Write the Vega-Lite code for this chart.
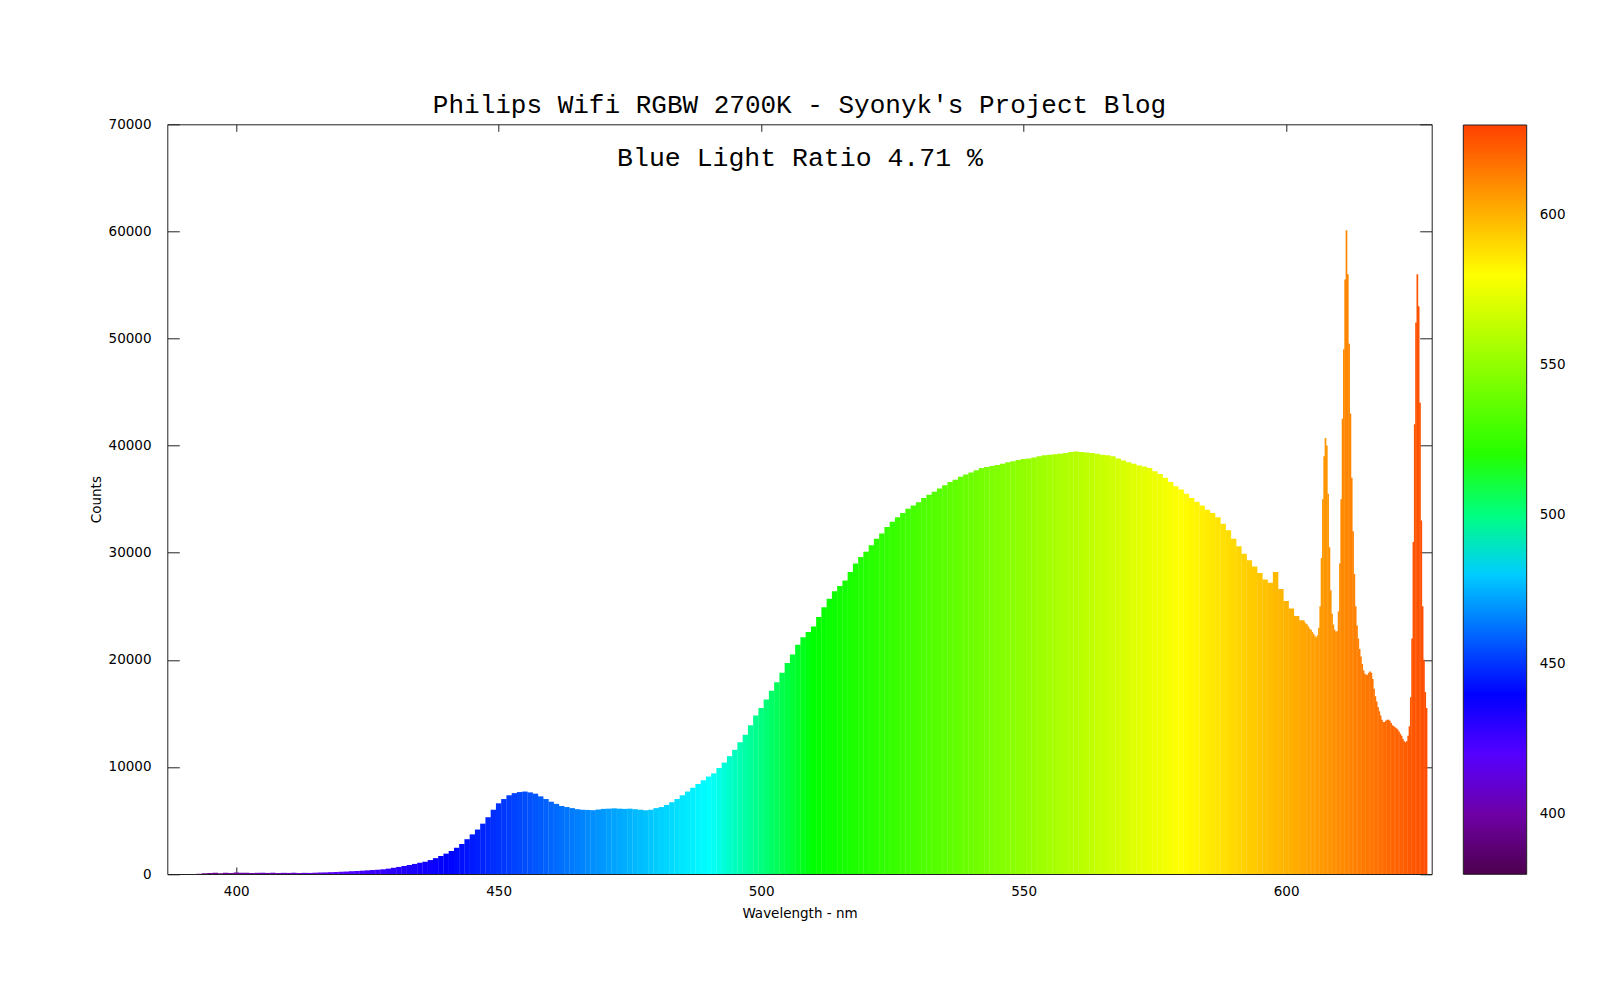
{
"$schema": "https://vega.github.io/schema/vega-lite/v6.json",
"autosize": {"type": "none"},
"padding": {"left": 167.3, "top": 124.3, "right": 168.3, "bottom": 126},
"width": 1264.4,
"height": 749.7,
"background": "white",
"title": {"text": "Philips Wifi RGBW 2700K - Syonyk's Project Blog", "font": "Liberation Mono", "fontSize": 26, "fontWeight": "normal", "color": "black", "anchor": "middle", "baseline": "alphabetic", "frame": "group", "offset": -22},
"datasets": {
"coarse": [
{"w":388,"c":0},{"w":389,"c":0},{"w":390,"c":0},{"w":391,"c":0},{"w":392,"c":0},{"w":393,"c":20},{"w":394,"c":60},{"w":395,"c":90},{"w":396,"c":110},{"w":397,"c":80},{"w":398,"c":120},{"w":399,"c":100},{"w":400,"c":130},{"w":401,"c":110},{"w":402,"c":120},{"w":403,"c":100},{"w":404,"c":110},{"w":405,"c":120},{"w":406,"c":100},{"w":407,"c":120},{"w":408,"c":90},{"w":409,"c":110},{"w":410,"c":100},{"w":411,"c":120},{"w":412,"c":90},{"w":413,"c":110},{"w":414,"c":100},{"w":415,"c":120},{"w":416,"c":140},{"w":417,"c":150},{"w":418,"c":170},{"w":419,"c":190},{"w":420,"c":210},{"w":421,"c":230},{"w":422,"c":260},{"w":423,"c":280},{"w":424,"c":310},{"w":425,"c":340},{"w":426,"c":370},{"w":427,"c":400},{"w":428,"c":440},{"w":429,"c":500},{"w":430,"c":580},{"w":431,"c":660},{"w":432,"c":750},{"w":433,"c":840},{"w":434,"c":940},{"w":435,"c":1050},{"w":436,"c":1150},{"w":437,"c":1300},{"w":438,"c":1480},{"w":439,"c":1680},{"w":440,"c":1900},
{"w":441,"c":2150},{"w":442,"c":2450},{"w":443,"c":2800},{"w":444,"c":3250},{"w":445,"c":3700},{"w":446,"c":4150},{"w":447,"c":4700},{"w":448,"c":5300},{"w":449,"c":6000},{"w":450,"c":6600},{"w":451,"c":7000},{"w":452,"c":7350},{"w":453,"c":7550},{"w":454,"c":7650},{"w":455,"c":7700},{"w":456,"c":7620},{"w":457,"c":7500},{"w":458,"c":7250},{"w":459,"c":7000},{"w":460,"c":6750},{"w":461,"c":6550},{"w":462,"c":6350},{"w":463,"c":6250},{"w":464,"c":6150},{"w":465,"c":6050},{"w":466,"c":6000},{"w":467,"c":5980},{"w":468,"c":5960},{"w":469,"c":6020},{"w":470,"c":6080},{"w":471,"c":6100},{"w":472,"c":6130},{"w":473,"c":6100},{"w":474,"c":6080},{"w":475,"c":6100},{"w":476,"c":6050},{"w":477,"c":6000},{"w":478,"c":5950},{"w":479,"c":6000},{"w":480,"c":6150},{"w":481,"c":6250},{"w":482,"c":6450},{"w":483,"c":6700},{"w":484,"c":7000},{"w":485,"c":7350},{"w":486,"c":7700},{"w":487,"c":8050},
{"w":488,"c":8400},{"w":489,"c":8750},{"w":490,"c":9100},{"w":491,"c":9400},{"w":492,"c":9900},{"w":493,"c":10400},{"w":494,"c":11000},{"w":495,"c":11600},{"w":496,"c":12300},{"w":497,"c":13000},{"w":498,"c":13900},{"w":499,"c":14800},{"w":500,"c":15500},{"w":501,"c":16300},{"w":502,"c":17100},{"w":503,"c":17900},{"w":504,"c":18800},{"w":505,"c":19700},{"w":506,"c":20500},{"w":507,"c":21400},{"w":508,"c":22100},{"w":509,"c":22600},{"w":510,"c":23100},{"w":511,"c":24000},{"w":512,"c":24900},{"w":513,"c":25700},{"w":514,"c":26400},{"w":515,"c":26900},{"w":516,"c":27400},{"w":517,"c":28200},{"w":518,"c":29000},{"w":519,"c":29600},{"w":520,"c":30100},{"w":521,"c":30700},{"w":522,"c":31300},{"w":523,"c":31800},{"w":524,"c":32400},{"w":525,"c":32900},{"w":526,"c":33300},{"w":527,"c":33700},{"w":528,"c":34100},{"w":529,"c":34400},{"w":530,"c":34700},{"w":531,"c":35100},{"w":532,"c":35400},{"w":533,"c":35700},{"w":534,"c":36000},{"w":535,"c":36300},{"w":536,"c":36600},{"w":537,"c":36800},{"w":538,"c":37100},{"w":539,"c":37300},{"w":540,"c":37500},
{"w":541,"c":37700},{"w":542,"c":37900},{"w":543,"c":38000},{"w":544,"c":38100},{"w":545,"c":38200},{"w":546,"c":38300},{"w":547,"c":38450},{"w":548,"c":38550},{"w":549,"c":38650},{"w":550,"c":38750},{"w":551,"c":38800},{"w":552,"c":38900},{"w":553,"c":39000},{"w":554,"c":39100},{"w":555,"c":39150},{"w":556,"c":39200},{"w":557,"c":39250},{"w":558,"c":39300},{"w":559,"c":39400},{"w":560,"c":39450},{"w":561,"c":39400},{"w":562,"c":39350},{"w":563,"c":39300},{"w":564,"c":39250},{"w":565,"c":39150},{"w":566,"c":39100},{"w":567,"c":39000},{"w":568,"c":38800},{"w":569,"c":38600},{"w":570,"c":38450},{"w":571,"c":38300},{"w":572,"c":38150},{"w":573,"c":38050},{"w":574,"c":37900},{"w":575,"c":37600},{"w":576,"c":37350},{"w":577,"c":37000},{"w":578,"c":36600},{"w":579,"c":36200},{"w":580,"c":35900},{"w":581,"c":35500},{"w":582,"c":35100},{"w":583,"c":34750},{"w":584,"c":34400},{"w":585,"c":34000},{"w":586,"c":33700},{"w":587,"c":33300},{"w":588,"c":32700},{"w":589,"c":32100},{"w":590,"c":31300},{"w":591,"c":30600},{"w":592,"c":29900},{"w":593,"c":29300},{"w":594,"c":28700},{"w":595,"c":28100},{"w":596,"c":27500},{"w":597,"c":27200},{"w":598,"c":28200},{"w":599,"c":26600},{"w":600,"c":25500},{"w":601,"c":24800},{"w":602,"c":24100},{"w":603,"c":23700}
],
"fine": [
{"w":603.5,"c":23500},{"w":603.75,"c":23400},{"w":604,"c":23300},{"w":604.25,"c":23100},{"w":604.5,"c":22900},{"w":604.75,"c":22800},{"w":605,"c":22600},{"w":605.25,"c":22400},{"w":605.5,"c":22200},{"w":605.75,"c":22100},{"w":606,"c":22300},{"w":606.25,"c":23000},{"w":606.5,"c":25000},{"w":606.75,"c":29500},{"w":607,"c":35000},{"w":607.25,"c":39000},{"w":607.5,"c":40700},{"w":607.75,"c":40000},{"w":608,"c":35500},{"w":608.25,"c":30500},{"w":608.5,"c":26500},{"w":608.75,"c":24300},{"w":609,"c":23300},{"w":609.25,"c":22800},{"w":609.5,"c":22600},{"w":609.75,"c":22700},{"w":610,"c":24500},{"w":610.25,"c":29000},{"w":610.5,"c":35000},{"w":610.75,"c":42500},{"w":611,"c":49000},{"w":611.25,"c":55500},{"w":611.5,"c":60100},{"w":611.75,"c":56000},{"w":612,"c":49500},{"w":612.25,"c":43000},{"w":612.5,"c":37000},{"w":612.75,"c":32000},{"w":613,"c":28000},{"w":613.25,"c":25000},{"w":613.5,"c":23200},{"w":613.75,"c":22000},{"w":614,"c":21000},{"w":614.25,"c":20300},{"w":614.5,"c":19600},{"w":614.75,"c":19000},{"w":615,"c":18700},{"w":615.25,"c":18600},{"w":615.5,"c":18600},{"w":615.75,"c":18800},{"w":616,"c":18900},{"w":616.25,"c":18800},{"w":616.5,"c":18200},{"w":616.75,"c":17300},{"w":617,"c":16600},{"w":617.25,"c":16100},{"w":617.5,"c":15600},{"w":617.75,"c":15200},{"w":618,"c":14800},{"w":618.25,"c":14400},{"w":618.5,"c":14200},{"w":618.75,"c":14200},{"w":619,"c":14300},{"w":619.25,"c":14400},{"w":619.5,"c":14400},{"w":619.75,"c":14300},{"w":620,"c":14100},{"w":620.25,"c":13900},{"w":620.5,"c":13800},{"w":620.75,"c":13700},{"w":621,"c":13600},{"w":621.25,"c":13500},{"w":621.5,"c":13300},{"w":621.75,"c":13100},{"w":622,"c":12900},{"w":622.25,"c":12600},{"w":622.5,"c":12400},{"w":622.75,"c":12300},{"w":623,"c":12400},{"w":623.25,"c":12900},{"w":623.5,"c":13800},{"w":623.75,"c":16500},{"w":624,"c":22000},{"w":624.25,"c":31000},{"w":624.5,"c":42000},{"w":624.75,"c":51500},{"w":625,"c":56000},{"w":625.25,"c":53000},{"w":625.5,"c":44000},{"w":625.75,"c":33000},{"w":626,"c":25000},{"w":626.25,"c":20000},{"w":626.5,"c":17000},{"w":626.75,"c":15500}
]
},
"layer": [
{
"data": {"name": "coarse"},
"mark": {"type": "bar", "width": 5.5, "clip": true},
"encoding": {
"x": {"field": "w", "type": "quantitative", "scale": {"domain": [387.83, 626.78], "nice": false, "zero": false},
"axis": {"orient": "bottom", "values": [400, 450, 500, 550, 600], "title": "Wavelength - nm", "grid": false, "tickSize": -7, "labelPadding": 17, "titlePadding": 9}},
"y": {"field": "c", "type": "quantitative", "scale": {"domain": [0, 70000], "nice": false},
"axis": {"orient": "left", "values": [0, 10000, 20000, 30000, 40000, 50000, 60000, 70000], "format": "d", "title": "Counts", "grid": false, "tickSize": -12, "labelPadding": 28.3, "titlePadding": 5}},
"color": {"field": "w", "type": "quantitative",
"scale": {"domain": [380, 390, 400, 410, 420, 440, 490, 510, 580, 630], "range": ["#4d004d", "#650079", "#6e00a6", "#6900d2", "#5500ff", "#0000ff", "#00ffff", "#00ff00", "#ffff00", "#ff4000"], "interpolate": "rgb"},
"legend": {"title": null, "orient": "none", "legendX": 1296, "legendY": 0.7, "direction": "vertical", "gradientLength": 749.3, "gradientThickness": 63.4, "values": [400, 450, 500, 550, 600], "labelOffset": 13, "padding": 0, "gradientStrokeColor": "#222", "gradientStrokeWidth": 1, "labelFontSize": 13.5, "labelColor": "black", "labelFont": "DejaVu Sans"}}
}
},
{
"data": {"name": "fine"},
"mark": {"type": "bar", "width": 1.7, "clip": true},
"encoding": {
"x": {"field": "w", "type": "quantitative", "axis": null},
"y": {"field": "c", "type": "quantitative", "axis": null},
"color": {"field": "w", "type": "quantitative"}
}
},
{
"data": {"values": [{}]},
"mark": {"type": "text", "text": "Blue Light Ratio 4.71 %", "font": "Liberation Mono", "fontSize": 26.5, "align": "center", "baseline": "alphabetic", "color": "black"},
"encoding": {
"x": {"datum": 507.4, "type": "quantitative", "axis": {"orient": "top", "values": [400, 450, 500, 550, 600], "labels": false, "title": null, "grid": false, "tickSize": -7}},
"y": {"datum": 66100, "type": "quantitative", "axis": {"orient": "right", "values": [0, 10000, 20000, 30000, 40000, 50000, 60000, 70000], "labels": false, "title": null, "grid": false, "tickSize": -12}}
}
}
],
"resolve": {"axis": {"x": "independent", "y": "independent"}},
"config": {
"font": "DejaVu Sans",
"view": {"stroke": null},
"axis": {"domainColor": "#222", "domainWidth": 1, "tickColor": "#222", "tickWidth": 1, "labelFontSize": 13.5, "labelColor": "black", "labelFont": "DejaVu Sans", "titleFont": "DejaVu Sans", "titleFontSize": 13.5, "titleFontWeight": "normal", "titleColor": "black"}
}
}
